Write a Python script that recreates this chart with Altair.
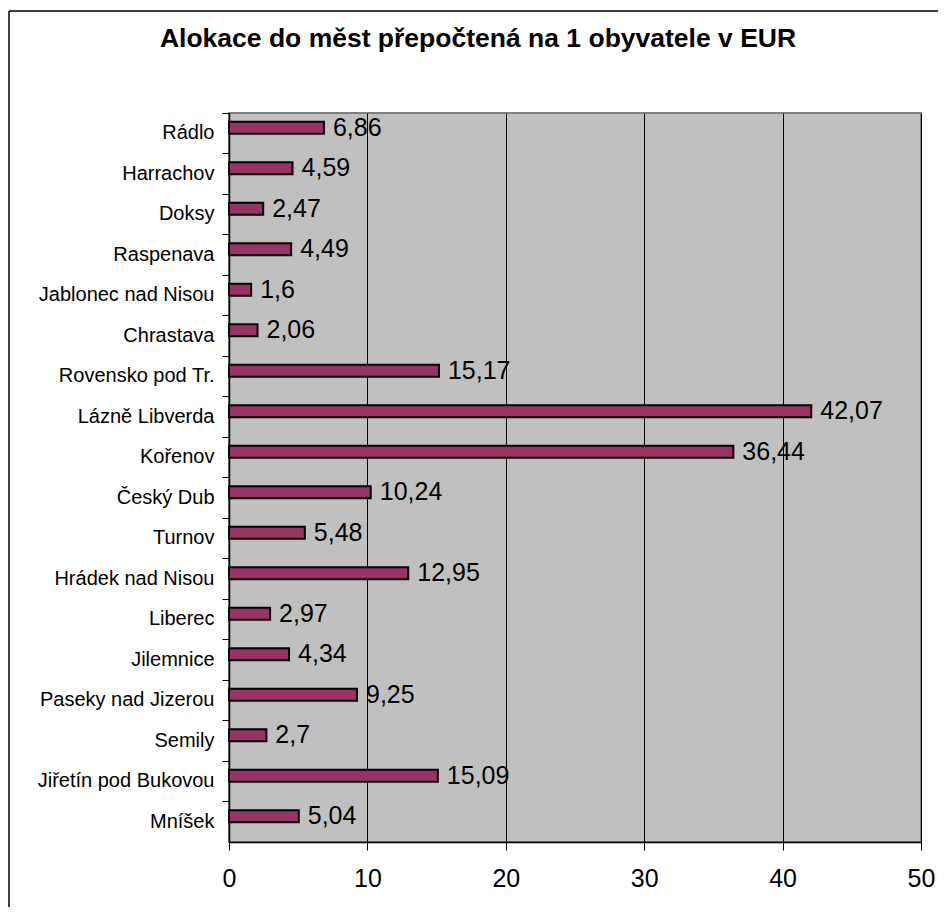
import altair as alt
import pandas as pd

cities = ["Rádlo", "Harrachov", "Doksy", "Raspenava", "Jablonec nad Nisou", "Chrastava",
          "Rovensko pod Tr.", "Lázně Libverda", "Kořenov", "Český Dub", "Turnov",
          "Hrádek nad Nisou", "Liberec", "Jilemnice", "Paseky nad Jizerou", "Semily",
          "Jiřetín pod Bukovou", "Mníšek"]
values = [6.86, 4.59, 2.47, 4.49, 1.6, 2.06, 15.17, 42.07, 36.44, 10.24, 5.48,
          12.95, 2.97, 4.34, 9.25, 2.7, 15.09, 5.04]
title_text = "Alokace do měst přepočtená na 1 obyvatele v EUR"

df = pd.DataFrame({
    "city": cities,
    "value": values,
    "label": [str(v).replace(".", ",") for v in values],
})

FONT = "Liberation Sans"
W, H = 692, 729

y_enc = alt.Y("city:N", sort=None, title=None,
              scale=alt.Scale(paddingInner=0, paddingOuter=0),
              axis=alt.Axis(bandPosition=0, tickExtra=True, tickSize=7, tickColor="black",
                            domainColor="black", domainWidth=1.5, labelFont=FONT,
                            labelFontSize=20, labelColor="black", labelPadding=8,
                            grid=False))
x_enc = alt.X("value:Q", title=None,
              scale=alt.Scale(domain=[0, 50], nice=False),
              axis=alt.Axis(values=[0, 10, 20, 30, 40, 50], tickSize=8, tickColor="black",
                            domainColor="black", domainWidth=1.5, grid=True,
                            gridColor="black", gridWidth=1, labelFont=FONT,
                            labelFontSize=25, labelColor="black", labelPadding=16,
                            labelFlush=False))

bars = alt.Chart(df).mark_bar(size=12, color="#993366", stroke="black",
                              strokeWidth=2, yOffset=-5.5).encode(x=x_enc, y=y_enc)

text = alt.Chart(df).mark_text(align="left", baseline="middle", dx=9, yOffset=-5.5,
                               font=FONT, fontSize=25, color="black").encode(
    x="value:Q", y=alt.Y("city:N", sort=None), text="label:N")

title = alt.Chart(pd.DataFrame({"t": [title_text]})).mark_text(
    align="center", baseline="alphabetic", font=FONT, fontSize=26.5,
    fontWeight="bold", color="black").encode(
    x=alt.value(249), y=alt.value(-66), text="t:N")

frame_left = alt.Chart(pd.DataFrame({"a": [0]})).mark_rule(color="black", strokeWidth=1.5).encode(
    x=alt.value(-220), y=alt.value(-102), y2=alt.value(900))
frame_top = alt.Chart(pd.DataFrame({"a": [0]})).mark_rule(color="black", strokeWidth=1.5).encode(
    x=alt.value(-220), x2=alt.value(800), y=alt.value(-102))

chart = alt.layer(bars, text, title, frame_left, frame_top).properties(
    width=W, height=H,
    autosize=alt.AutoSizeParams(type="none"),
    padding={"left": 221, "top": 105, "right": 17, "bottom": 65},
    background="white",
).configure_view(fill="#C0C0C0", stroke="#808080", strokeWidth=2)

chart.save("out.html", embed_options={"renderer": "svg", "actions": False})
